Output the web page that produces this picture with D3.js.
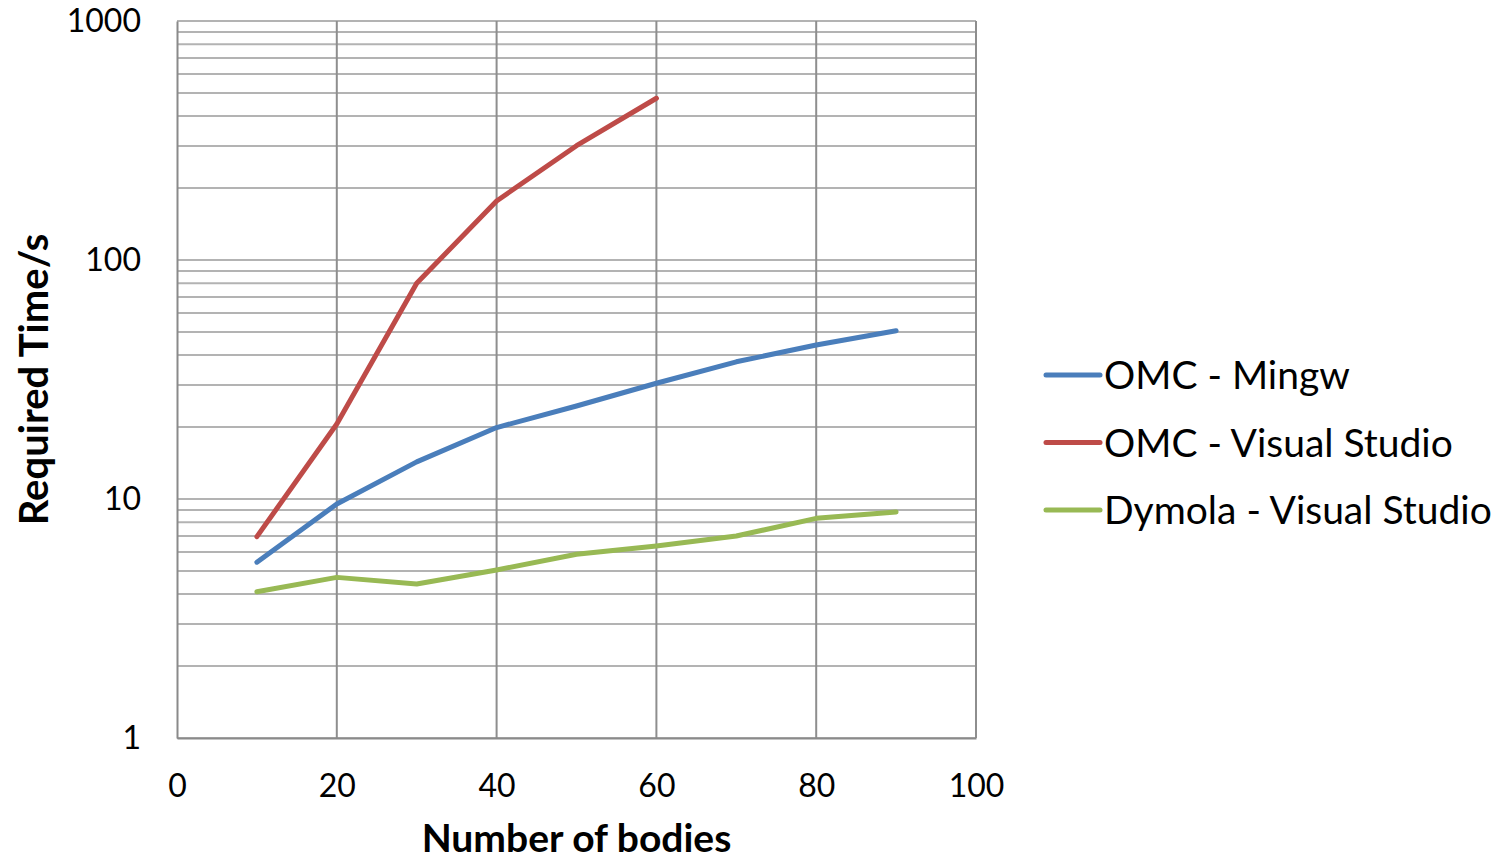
<!DOCTYPE html>
<html>
<head>
<meta charset="utf-8">
<script src="https://cdn.jsdelivr.net/npm/d3@7"></script>
<style>
  body { margin: 0; background: #fff; }
  svg text { font-family: Lato, "Open Sans", sans-serif; fill: #000; }
</style>
</head>
<body>
<svg id="chart" width="1505" height="861"></svg>
<script>
'use strict';

// number of bodies
var bodies = [10, 20, 30, 40, 50, 60, 70, 80, 90];
// required time in seconds
var omcMingw = [5.44, 9.53, 14.3, 19.9, 24.5, 30.5, 37.5, 44.1, 50.6];
var omcVisualStudio = [6.96, 20.6, 79.9, 176.6, 300.8, 475];
var dymolaVisualStudio = [4.09, 4.70, 4.41, 5.05, 5.87, 6.36, 7.0, 8.30, 8.83];

var seriesNames = ['OMC - Mingw', 'OMC - Visual Studio', 'Dymola - Visual Studio'];
var seriesColors = ['#4a7ebb', '#be4b48', '#98b954'];
var xTicks = [0, 20, 40, 60, 80, 100];
var yTicks = [1, 10, 100, 1000];

var margin = {top: 21, left: 177};
var plotW = 799, plotH = 717;

var svg = d3.select('#chart');
var g = svg.append('g').attr('transform', 'translate(' + margin.left + ',' + margin.top + ')');

var x = d3.scaleLinear().domain([0, 100]).range([0, plotW]);
var y = d3.scaleLog().domain([1, 1000]).range([plotH, 0]);

// horizontal grid, every 1..9 of each decade
g.append('g').selectAll('line').data(y.ticks()).enter()
    .append('line')
        .attr('x1', 0).attr('x2', plotW)
        .attr('y1', function(d) { return y(d); })
        .attr('y2', function(d) { return y(d); })
        .style('stroke', '#b3b3b3').style('stroke-width', 2);

// vertical grid
g.append('g').selectAll('line').data(xTicks.slice(1)).enter()
    .append('line')
        .attr('x1', function(d) { return x(d); })
        .attr('x2', function(d) { return x(d); })
        .attr('y1', 0).attr('y2', plotH)
        .style('stroke', '#8e8e8e').style('stroke-width', 2);

// axes
var yAxis = g.append('g')
    .call(d3.axisLeft(y).tickValues(yTicks).tickSize(0).tickPadding(36).tickFormat(d3.format('d')));
var xAxis = g.append('g')
    .attr('transform', 'translate(0,' + plotH + ')')
    .call(d3.axisBottom(x).tickValues(xTicks).tickSize(0).tickPadding(36));
[yAxis, xAxis].forEach(function(ax) {
    ax.select('.domain').style('stroke', '#8a8a8a').style('stroke-width', 2);
    ax.selectAll('text').style('font-size', '32px').style('font-family', 'Lato, sans-serif');
});

// lines
var line = d3.line()
    .x(function(d) { return x(d.x); })
    .y(function(d) { return y(d.y); });

var allSeries = [omcMingw, omcVisualStudio, dymolaVisualStudio].map(function(values, i) {
    return {
        name: seriesNames[i],
        color: seriesColors[i],
        points: values.map(function(v, j) { return {x: bodies[j], y: v}; })
    };
});

g.selectAll('.series').data(allSeries).enter()
    .append('path')
        .classed('series', true)
        .attr('d', function(d) { return line(d.points); })
        .style('fill', 'none')
        .style('stroke', function(d) { return d.color; })
        .style('stroke-width', 5)
        .style('stroke-linejoin', 'round')
        .style('stroke-linecap', 'round');

// axis titles
svg.append('text')
    .attr('transform', 'translate(48,' + (margin.top + plotH / 2) + ') rotate(-90)')
    .attr('text-anchor', 'middle')
    .style('font-size', '40px').style('font-weight', 'bold')
    .text('Required Time/s');

svg.append('text')
    .attr('x', margin.left + plotW / 2)
    .attr('y', 852)
    .attr('text-anchor', 'middle')
    .style('font-size', '39px').style('font-weight', 'bold')
    .text('Number of bodies');

// legend
var legend = svg.append('g').attr('transform', 'translate(1046,375)');
var item = legend.selectAll('.legend-item').data(allSeries).enter()
    .append('g')
        .classed('legend-item', true)
        .attr('transform', function(d, i) { return 'translate(0,' + (i * 67.5) + ')'; });
item.append('line')
    .attr('x1', 0).attr('x2', 54).attr('y1', 0).attr('y2', 0)
    .style('stroke', function(d) { return d.color; })
    .style('stroke-width', 5)
    .style('stroke-linecap', 'round');
item.append('text')
    .attr('x', 58).attr('y', 14)
    .style('font-size', '39px')
    .text(function(d) { return d.name; });
</script>
</body>
</html>
